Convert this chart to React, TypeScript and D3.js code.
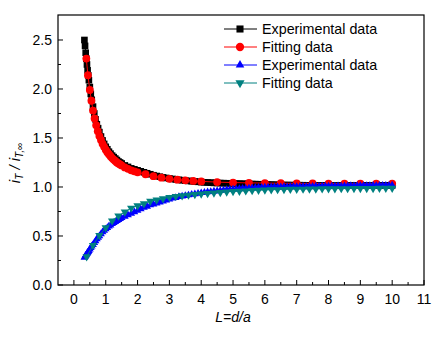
import React from "react";
import * as d3 from "d3";

const expX = [
  0.33, 0.35, 0.37, 0.39, 0.41, 0.43, 0.45, 0.47, 0.5, 0.53, 0.56, 0.6, 0.64, 0.68, 0.72, 0.76, 0.8, 0.85, 0.9, 0.95,
  1.0, 1.05, 1.1, 1.15, 1.2, 1.25, 1.3, 1.35, 1.4, 1.45, 1.5,
  1.6, 1.7, 1.8, 1.9, 2.0, 2.1, 2.2, 2.3, 2.4, 2.5, 2.6, 2.7, 2.8, 2.9, 3.0, 3.1, 3.2, 3.3, 3.4, 3.5,
  3.6, 3.7, 3.8, 3.9, 4.0, 4.1, 4.2, 4.3, 4.4, 4.5, 4.6, 4.7, 4.8, 4.9, 5.0,
  5.1, 5.2, 5.3, 5.4, 5.5, 5.6, 5.7, 5.8, 5.9, 6.0, 6.1, 6.2, 6.3, 6.4, 6.5, 6.6, 6.7, 6.8, 6.9, 7.0,
  7.1, 7.2, 7.3, 7.4, 7.5, 7.6, 7.7, 7.8, 7.9, 8.0, 8.1, 8.2, 8.3, 8.4, 8.5, 8.6, 8.7, 8.8, 8.9, 9.0,
  9.1, 9.2, 9.3, 9.4, 9.5, 9.6, 9.7, 9.8, 9.9, 10.0,
];

const expPositiveY = [
  2.5, 2.44, 2.37, 2.31, 2.25, 2.19, 2.14, 2.09, 2.02, 1.95, 1.89, 1.82, 1.75, 1.69, 1.64, 1.6, 1.56, 1.515, 1.475, 1.44,
  1.41, 1.385, 1.36, 1.34, 1.32, 1.305, 1.29, 1.275, 1.26, 1.25, 1.24,
  1.22, 1.205, 1.19, 1.18, 1.17, 1.16, 1.15, 1.14, 1.13, 1.12, 1.112, 1.105, 1.098, 1.092, 1.087, 1.082, 1.077, 1.073, 1.069, 1.065,
  1.062, 1.059, 1.056, 1.053, 1.05, 1.048, 1.046, 1.044, 1.042, 1.041, 1.04, 1.039, 1.038, 1.037, 1.036,
  1.035, 1.034, 1.033, 1.032, 1.031, 1.03, 1.029, 1.028, 1.027, 1.026, 1.025, 1.024, 1.023, 1.022, 1.021, 1.02, 1.02, 1.019, 1.019, 1.018,
  1.018, 1.018, 1.017, 1.017, 1.017, 1.016, 1.016, 1.016, 1.016, 1.015, 1.015, 1.015, 1.015, 1.015, 1.015, 1.015, 1.015, 1.015, 1.015, 1.015,
  1.015, 1.015, 1.015, 1.015, 1.015, 1.015, 1.015, 1.015, 1.015, 1.015,
];

const expNegativeY = [
  0.28, 0.29, 0.3, 0.31, 0.32, 0.33, 0.34, 0.35, 0.365, 0.38, 0.395, 0.41, 0.43, 0.45, 0.47, 0.485, 0.5, 0.52, 0.54, 0.555,
  0.57, 0.585, 0.6, 0.61, 0.625, 0.635, 0.645, 0.655, 0.665, 0.675, 0.685,
  0.7, 0.715, 0.73, 0.745, 0.76, 0.775, 0.79, 0.8, 0.815, 0.825, 0.835, 0.845, 0.855, 0.865, 0.875, 0.885, 0.89, 0.9, 0.905, 0.91,
  0.917, 0.923, 0.929, 0.934, 0.94, 0.944, 0.948, 0.952, 0.956, 0.96, 0.964, 0.968, 0.971, 0.974, 0.977,
  0.98, 0.982, 0.984, 0.986, 0.988, 0.99, 0.992, 0.994, 0.995, 0.997, 0.998, 1.0, 0.999, 1.001, 1.0, 1.002, 1.001, 1.003, 1.002, 1.004,
  1.003, 1.005, 1.004, 1.006, 1.005, 1.007, 1.006, 1.008, 1.007, 1.008, 1.009, 1.008, 1.01, 1.009, 1.011, 1.01, 1.012, 1.011, 1.012, 1.013,
  1.012, 1.014, 1.013, 1.015, 1.014, 1.015, 1.016, 1.015, 1.016, 1.017,
];

const fitPositiveX = [
  0.39, 0.44, 0.5, 0.55, 0.6, 0.65, 0.7, 0.75, 0.8, 0.85, 0.9, 0.95, 1.0, 1.05, 1.1, 1.15, 1.2, 1.25, 1.3, 1.35, 1.4, 1.45, 1.5,
  1.6, 1.7, 1.8, 1.9, 2.0, 2.25, 2.5, 2.75, 3.0, 3.25, 3.5, 3.75, 4.0, 4.5, 5.0, 5.5, 6.0, 6.5, 7.0, 7.5, 8.0, 8.5, 9.0, 9.5, 10.0,
];
const fitPositiveY = [
  2.31, 2.14, 1.99, 1.88, 1.78, 1.7, 1.63, 1.57, 1.52, 1.48, 1.44, 1.41, 1.38, 1.355, 1.335, 1.315, 1.295, 1.28, 1.265, 1.25, 1.24, 1.23, 1.22,
  1.2, 1.185, 1.17, 1.16, 1.15, 1.13, 1.11, 1.095, 1.083, 1.075, 1.068, 1.062, 1.057, 1.05, 1.045, 1.042, 1.04, 1.038, 1.037, 1.036, 1.035, 1.034, 1.034, 1.033, 1.033,
];

const fitNegativeX = [
  0.4, 0.6, 0.8, 1.0, 1.2, 1.4, 1.6, 1.8, 2.0, 2.2, 2.4, 2.6, 2.8, 3.0, 3.2, 3.4, 3.6, 3.8, 4.0, 4.2, 4.4, 4.6, 4.8, 5.0,
  5.2, 5.4, 5.6, 5.8, 6.0, 6.2, 6.4, 6.6, 6.8, 7.0, 7.2, 7.4, 7.6, 7.8, 8.0, 8.2, 8.4, 8.6, 8.8, 9.0, 9.2, 9.4, 9.6, 9.8, 10.0,
];
const fitNegativeY = [
  0.29, 0.405, 0.505, 0.585, 0.655, 0.705, 0.745, 0.785, 0.81, 0.83, 0.855, 0.868, 0.88, 0.895, 0.905, 0.912, 0.918, 0.925, 0.93, 0.935, 0.94, 0.945, 0.95, 0.955,
  0.958, 0.961, 0.964, 0.967, 0.97, 0.972, 0.974, 0.976, 0.977, 0.978, 0.979, 0.98, 0.981, 0.982, 0.983, 0.983, 0.984, 0.984, 0.985, 0.985, 0.986, 0.986, 0.987, 0.987, 0.988,
];

const xTicks = [0, 1, 2, 3, 4, 5, 6, 7, 8, 9, 10, 11];
const yTicks = [0.0, 0.5, 1.0, 1.5, 2.0, 2.5];
const legendLabels = ["Experimental data", "Fitting data", "Experimental data", "Fitting data"];

const W = 446;
const H = 338;
const left = 58;
const right = 424;
const top = 15;
const bottom = 285;

export default function App() {
  const x = d3.scaleLinear().domain([-0.5, 11]).range([left, right]);
  const y = d3.scaleLinear().domain([0, 2.755]).range([bottom, top]);
  const line = d3
    .line<[number, number]>()
    .x((d) => x(d[0]))
    .y((d) => y(d[1]));

  const series = [
    { xs: expX, ys: expPositiveY, color: "#000000", sym: d3.symbolSquare, size: 44, rot: 0 },
    { xs: fitPositiveX, ys: fitPositiveY, color: "#ff0000", sym: d3.symbolCircle, size: 48, rot: 0 },
    { xs: expX, ys: expNegativeY, color: "#0000ff", sym: d3.symbolTriangle, size: 26, rot: 0 },
    { xs: fitNegativeX, ys: fitNegativeY, color: "#008080", sym: d3.symbolTriangle, size: 30, rot: 180 },
  ];

  const minorX = d3.range(-0.5, 11.01, 0.5).filter((v) => Math.abs(v - Math.round(v)) > 0.1 && v > -0.4);
  const minorY = d3.range(0.25, 2.75, 0.5);
  const font = "Arial, 'Liberation Sans', sans-serif";

  return (
    <svg width={W} height={H} style={{ position: "absolute", left: 0, top: 0, background: "#fff" }}>
      <defs>
        <clipPath id="plotclip">
          <rect x={left} y={top} width={right - left} height={bottom - top} />
        </clipPath>
      </defs>
      <g clipPath="url(#plotclip)">
        {series.map((s, i) => {
          const pts = s.xs.map((v, k) => [v, s.ys[k]] as [number, number]);
          const path = d3.symbol().type(s.sym).size(s.size)()!;
          return (
            <g key={i}>
              <path d={line(pts)!} fill="none" stroke={s.color} strokeWidth={1} />
              {pts.map((p, k) => (
                <path
                  key={k}
                  d={path}
                  fill={s.color}
                  transform={`translate(${x(p[0])},${y(p[1])}) rotate(${s.rot})`}
                />
              ))}
            </g>
          );
        })}
      </g>

      {/* frame */}
      <rect x={left} y={top} width={right - left} height={bottom - top} fill="none" stroke="#000" strokeWidth={1.2} />

      {/* x ticks */}
      {xTicks.map((t) => (
        <g key={"xt" + t}>
          <line x1={x(t)} x2={x(t)} y1={bottom} y2={bottom - 5} stroke="#000" strokeWidth={1} />
          <text x={x(t)} y={304} textAnchor="middle" fontFamily={font} fontSize={14} fill="#000">
            {t}
          </text>
        </g>
      ))}
      {minorX.map((t) => (
        <line key={"xm" + t} x1={x(t)} x2={x(t)} y1={bottom} y2={bottom - 3} stroke="#000" strokeWidth={1} />
      ))}

      {/* y ticks */}
      {yTicks.map((t) => (
        <g key={"yt" + t}>
          <line x1={left} x2={left + 5} y1={y(t)} y2={y(t)} stroke="#000" strokeWidth={1} />
          <text x={52} y={y(t) + 5} textAnchor="end" fontFamily={font} fontSize={14} fill="#000">
            {t.toFixed(1)}
          </text>
        </g>
      ))}
      {minorY.map((t) => (
        <line key={"ym" + t} x1={left} x2={left + 3} y1={y(t)} y2={y(t)} stroke="#000" strokeWidth={1} />
      ))}

      {/* axis titles */}
      <text x={233} y={322} textAnchor="middle" fontFamily={font} fontSize={14} fontStyle="italic" fill="#000">
        L=d/a
      </text>
      <text
        transform={`translate(20,163) rotate(-90)`}
        textAnchor="middle"
        fontFamily={font}
        fontSize={15}
        fontStyle="italic"
        fill="#000"
      >
        <tspan>i</tspan>
        <tspan fontSize={10} dy={3}>T</tspan>
        <tspan dy={-3}> / </tspan>
        <tspan>i</tspan>
        <tspan fontSize={10} dy={3}>T,∞</tspan>
      </text>

      {/* legend */}
      {series.map((s, i) => {
        const ly = 29 + i * 18;
        const path = d3.symbol().type(s.sym).size(s.size + 6)()!;
        return (
          <g key={"lg" + i}>
            <line x1={224} x2={257} y1={ly} y2={ly} stroke={s.color} strokeWidth={1} />
            <path d={path} fill={s.color} transform={`translate(240,${ly}) rotate(${s.rot})`} />
            <text x={262} y={ly + 5} fontFamily={font} fontSize={14.3} fill="#000">
              {legendLabels[i]}
            </text>
          </g>
        );
      })}
    </svg>
  );
}
